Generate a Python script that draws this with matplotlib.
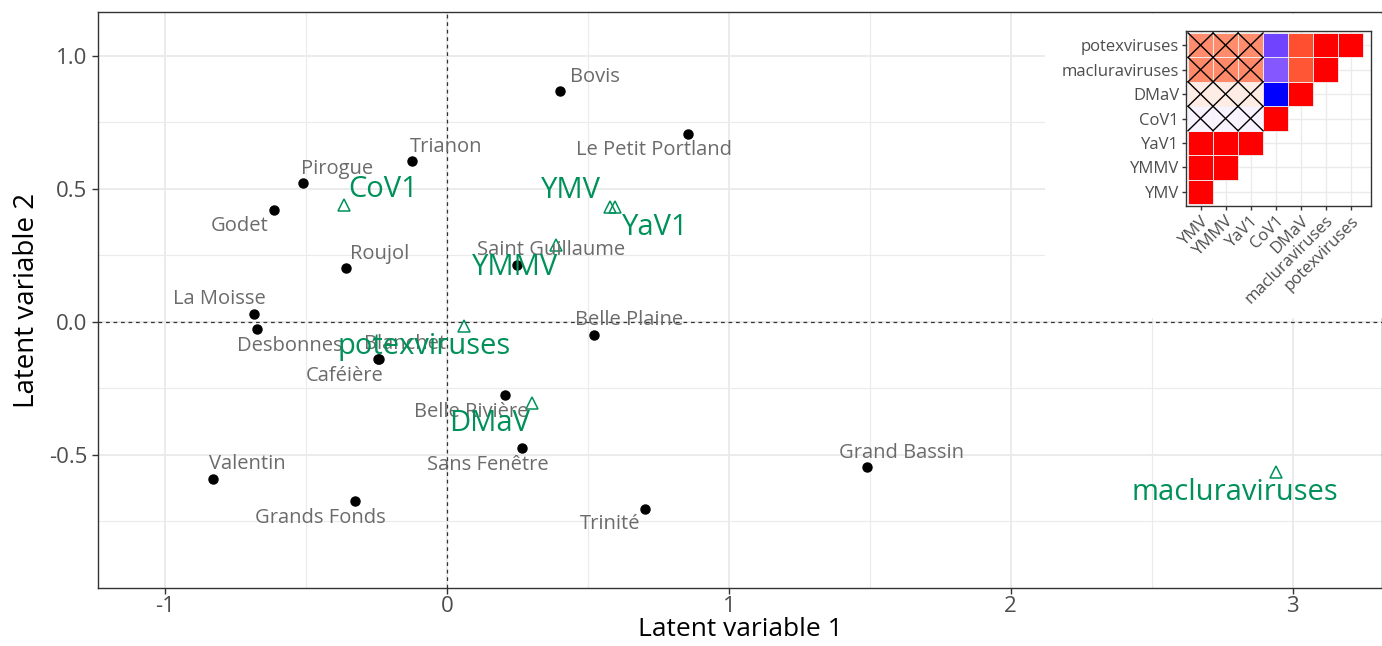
import numpy as np
import matplotlib
matplotlib.use("Agg")
import matplotlib.pyplot as plt
from matplotlib.colors import ListedColormap
from matplotlib.patches import Rectangle

plt.rcParams["font.family"] = ["Open Sans", "DejaVu Sans"]

# sampling sites (latent variable scores)
sites = ["Bovis", "Le Petit Portland", "Trianon", "Pirogue", "Godet", "Roujol",
         "Saint Guillaume", "La Moisse", "Desbonnes", "Blanchet", "Caféière",
         "Belle Plaine", "Belle Rivière", "Sans Fenêtre", "Valentin",
         "Grands Fonds", "Trinité", "Grand Bassin"]
site_lv1 = [0.40, 0.855, -0.124, -0.511, -0.613, -0.358, 0.248, -0.684, -0.674,
            -0.241, -0.243, 0.521, 0.206, 0.266, -0.830, -0.326, 0.702, 1.489]
site_lv2 = [0.868, 0.707, 0.605, 0.523, 0.421, 0.203, 0.214, 0.030, -0.026,
            -0.139, -0.141, -0.049, -0.274, -0.474, -0.590, -0.673, -0.703, -0.545]

# virus loadings
viruses = ["CoV1", "YMV", "YaV1", "YMMV", "potexviruses", "DMaV", "macluraviruses"]
virus_lv1 = [-0.365, 0.578, 0.596, 0.387, 0.060, 0.301, 2.94]
virus_lv2 = [0.440, 0.432, 0.432, 0.289, -0.015, -0.305, -0.564]

# residual correlations between viruses (lower triangle, row >= col)
corr_names = ["YMV", "YMMV", "YaV1", "CoV1", "DMaV", "macluraviruses", "potexviruses"]
corr_rows = [
    [1.0],
    [1.0, 1.0],
    [1.0, 1.0, 1.0],
    [-0.05, -0.05, -0.05, 1.0],
    [0.10, 0.10, 0.10, -1.0, 1.0],
    [0.60, 0.60, 0.60, -0.72, 0.82, 1.0],
    [0.58, 0.58, 0.58, -0.80, 0.84, 1.0, 1.0],
]
# correlations whose credible interval includes zero
corr_crossed = [
    [False],
    [False, False],
    [False, False, False],
    [True, True, True, False],
    [True, True, True, False, False],
    [True, True, True, False, False, False],
    [True, True, True, False, False, False, False],
]

# label offsets in pixels
site_offsets = {
    "Bovis": (35, 14), "Le Petit Portland": (-34, -16), "Trianon": (34, 14),
    "Pirogue": (34, 14), "Godet": (-35, -16), "Roujol": (34, 14),
    "Saint Guillaume": (34, 15), "La Moisse": (-35, 15), "Desbonnes": (33, -17),
    "Blanchet": (26, 15), "Caféière": (-34, -17), "Belle Plaine": (35, 15),
    "Belle Rivière": (-34, -17), "Sans Fenêtre": (-34, -17), "Valentin": (34, 15),
    "Grands Fonds": (-35, -17), "Trinité": (-35, -15), "Grand Bassin": (35, 14),
}
virus_offsets = {
    "CoV1": (39, 15), "YMV": (-39, 16), "YaV1": (40, -21), "YMMV": (-41, -22),
    "potexviruses": (-40, -21), "DMaV": (-42, -20), "macluraviruses": (-41, -21),
}

GREEN = "#00915A"


# blue-white-red gradient interpolated in Lab space
def srgb_to_lab(rgb):
    rgb = np.asarray(rgb, float)
    lin = np.where(rgb <= 0.04045, rgb / 12.92, ((rgb + 0.055) / 1.055) ** 2.4)
    m = np.array([[0.4124, 0.3576, 0.1805],
                  [0.2126, 0.7152, 0.0722],
                  [0.0193, 0.1192, 0.9505]])
    xyz = m @ lin / np.array([0.95047, 1.0, 1.08883])
    f = np.where(xyz > 0.008856, np.cbrt(xyz), 7.787 * xyz + 16 / 116)
    return np.array([116 * f[1] - 16, 500 * (f[0] - f[1]), 200 * (f[1] - f[2])])


def lab_to_srgb(lab):
    L, a, b = lab
    fy = (L + 16) / 116
    fx = fy + a / 500
    fz = fy - b / 200
    f = np.array([fx, fy, fz])
    xyz = np.where(f ** 3 > 0.008856, f ** 3, (f - 16 / 116) / 7.787)
    xyz = xyz * np.array([0.95047, 1.0, 1.08883])
    minv = np.array([[3.2406, -1.5372, -0.4986],
                     [-0.9689, 1.8758, 0.0415],
                     [0.0557, -0.2040, 1.0570]])
    lin = minv @ xyz
    rgb = np.where(lin <= 0.0031308, 12.92 * lin, 1.055 * np.clip(lin, 0, None) ** (1 / 2.4) - 0.055)
    return np.clip(rgb, 0, 1)


def make_cmap():
    white = srgb_to_lab([1, 1, 1])
    red = srgb_to_lab([1, 0, 0])
    blue = srgb_to_lab([0, 0, 1])
    cols = []
    for v in np.linspace(-1, 1, 256):
        end = blue if v < 0 else red
        t = abs(v)
        cols.append(lab_to_srgb(white + (end - white) * t))
    return ListedColormap(cols)


def style_axes(ax):
    for s in ax.spines.values():
        s.set_color("#333333")
        s.set_linewidth(1.0)
    ax.tick_params(colors="#333333", labelcolor="#4D4D4D", length=4, width=1)
    ax.set_axisbelow(True)


def main():
    fig = plt.figure(figsize=(13.82, 6.46), dpi=100)
    ax = fig.add_axes([0.0709, 0.0898, 0.9291, 0.8917])

    ax.set_xlim(-1.238, 3.317)
    ax.set_ylim(-1.0, 1.165)
    ax.set_xticks([-1, 0, 1, 2, 3])
    ax.set_xticklabels(["-1", "0", "1", "2", "3"])
    ax.set_yticks([-0.5, 0.0, 0.5, 1.0])
    ax.set_yticklabels(["-0.5", "0.0", "0.5", "1.0"])
    ax.set_xticks([-0.5, 0.5, 1.5, 2.5], minor=True)
    ax.set_yticks([-0.75, -0.25, 0.25, 0.75], minor=True)
    ax.grid(which="major", color="#EBEBEB", linewidth=1.4)
    ax.grid(which="minor", color="#EBEBEB", linewidth=0.8)
    ax.tick_params(which="minor", length=0)
    style_axes(ax)
    ax.tick_params(labelsize=16)
    ax.tick_params(axis="x", pad=2)

    ax.axhline(0, color="#333333", linestyle=(0, (3, 3)), linewidth=0.9)
    ax.axvline(0, color="#333333", linestyle=(0, (3, 3)), linewidth=0.9)

    ax.plot(site_lv1, site_lv2, "o", color="black", markersize=6.5, zorder=3)
    for name, x, y in zip(sites, site_lv1, site_lv2):
        ax.annotate(name, (x, y), xytext=site_offsets[name], textcoords="offset pixels",
                    ha="center", va="center", fontsize=14.5, color="#6B6B6B", zorder=4)

    ax.plot(virus_lv1, virus_lv2, "^", markerfacecolor="none", markeredgecolor=GREEN,
            markersize=8, markeredgewidth=1.1, zorder=3)
    for name, x, y in zip(viruses, virus_lv1, virus_lv2):
        ax.annotate(name, (x, y), xytext=virus_offsets[name], textcoords="offset pixels",
                    ha="center", va="center", fontsize=21, color=GREEN, zorder=5)

    ax.set_xlabel("Latent variable 1", fontsize=19, labelpad=0)
    ax.set_ylabel("Latent variable 2", fontsize=20, labelpad=6)

    # white background behind the correlation inset
    fig.patches.append(Rectangle((1045 / 1382, 1 - 318 / 646), 337 / 1382, 304 / 646,
                                 transform=fig.transFigure, facecolor="white",
                                 edgecolor="none", zorder=1))

    # correlation matrix inset
    cmap = make_cmap()
    ins = fig.add_axes([0.8582, 0.6811, 0.1339, 0.2709], zorder=2)
    n = len(corr_names)
    for r in range(n):
        for c, v in enumerate(corr_rows[r]):
            ins.add_patch(Rectangle((c + 0.5, r + 0.5), 1, 1, facecolor=cmap((v + 1) / 2),
                                    edgecolor="#F2F2F2", linewidth=0.6, zorder=2))
            if corr_crossed[r][c]:
                ins.plot([c + 0.5, c + 1.5], [r + 0.5, r + 1.5], color="black", lw=1.0, zorder=3)
                ins.plot([c + 0.5, c + 1.5], [r + 1.5, r + 0.5], color="black", lw=1.0, zorder=3)
    ins.set_xlim(0.42, 7.82)
    ins.set_ylim(0.42, 7.58)
    ins.set_xticks(range(1, n + 1))
    ins.set_yticks(range(1, n + 1))
    ins.set_xticklabels(corr_names, rotation=45, ha="right", rotation_mode="anchor")
    ins.set_yticklabels(corr_names)
    ins.grid(color="#EBEBEB", linewidth=1.0)
    style_axes(ins)
    ins.tick_params(labelsize=12, length=3, pad=2)

    fig.savefig("out.png", dpi=100, facecolor="white")


if __name__ == "__main__":
    main()
